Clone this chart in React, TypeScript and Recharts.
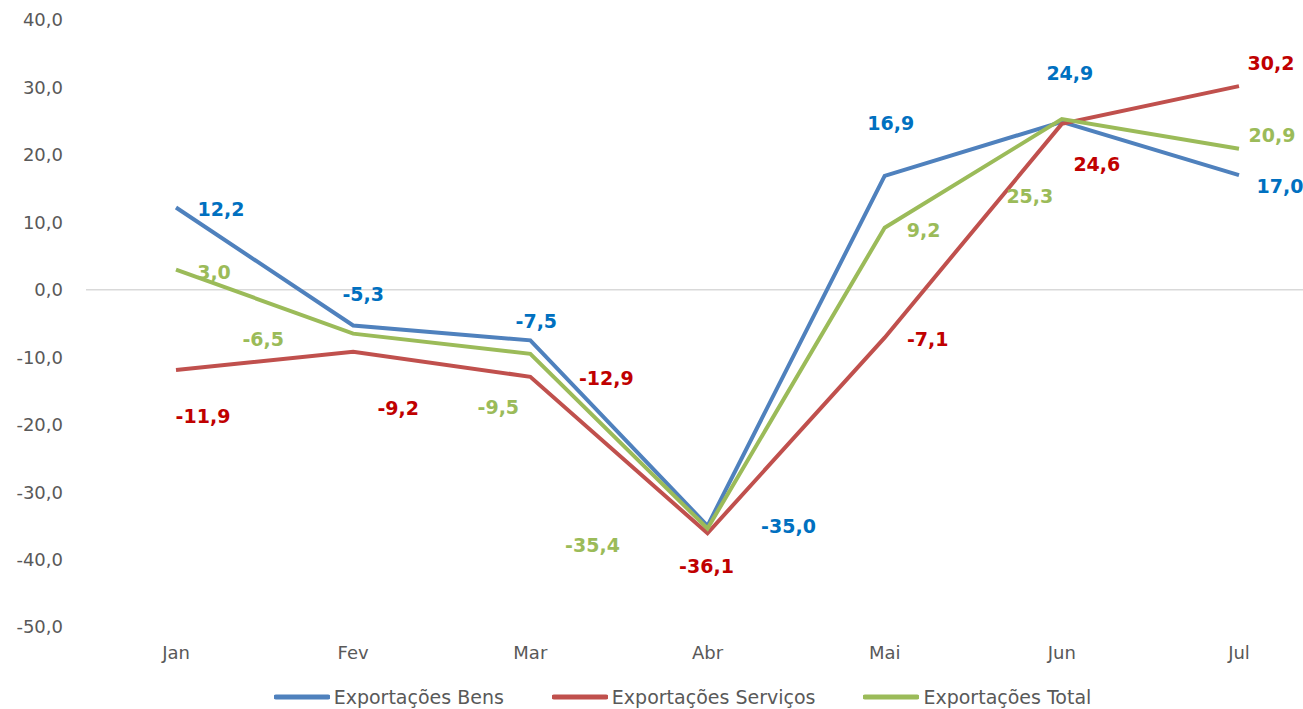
import { FC } from "react";
import {
  LabelList,
  Legend,
  Line,
  LineChart,
  ReferenceLine,
  XAxis,
  YAxis,
} from "recharts";

const MONTHS: string[] = ["Jan", "Fev", "Mar", "Abr", "Mai", "Jun", "Jul"];
const BENS: number[] = [12.2, -5.3, -7.5, -35.0, 16.9, 24.9, 17.0];
const SERVICOS: number[] = [-11.9, -9.2, -12.9, -36.1, -7.1, 24.6, 30.2];
const TOTAL: number[] = [3.0, -6.5, -9.5, -35.4, 9.2, 25.3, 20.9];
const Y_TICKS: number[] = [-50, -40, -30, -20, -10, 0, 10, 20, 30, 40];

const SERIES = [
  { key: "bens", name: "Exportações Bens", line: "#4F81BD", label: "#0070C0" },
  { key: "servicos", name: "Exportações Serviços", line: "#C0504D", label: "#C00000" },
  { key: "total", name: "Exportações Total", line: "#9BBB59", label: "#9BBB59" },
];

// label nudges (dx, dy) per point, as placed in the original
const OFFSETS: Record<string, [number, number][]> = {
  bens: [[45, 2], [10, -32], [6, -19], [81, 0], [6, -53], [8, -49], [41, 11]],
  servicos: [[27, 46], [45, 56], [76, 1], [-1, 33], [43, 1], [35, 40], [32, -23]],
  total: [[38, 2], [-90, 5], [-32, 53], [-115, 16], [39, 2], [-32, 77], [33, -14]],
};

const fmt = (v: number) => v.toFixed(1).replace(".", ",");

const FONT = "'DejaVu Sans', sans-serif";

const data = MONTHS.map((m, i) => ({
  month: m,
  bens: BENS[i],
  servicos: SERVICOS[i],
  total: TOTAL[i],
}));

const makeLabel = (key: string, color: string) => (props: any) => {
  const { x, y, value, index } = props;
  const [dx, dy] = OFFSETS[key][index];
  return (
    <text
      x={x + dx}
      y={y + dy}
      textAnchor="middle"
      dominantBaseline="central"
      fill={color}
      fontFamily={FONT}
      fontWeight="bold"
      fontSize={19}
    >
      {fmt(value)}
    </text>
  );
};

const LegendBox: FC = () => (
  <div
    style={{
      display: "flex",
      justifyContent: "center",
      alignItems: "center",
      height: 24,
      fontFamily: FONT,
      fontSize: 19,
      color: "#595959",
      paddingLeft: 62,
    }}
  >
    {SERIES.map((s, i) => (
      <div
        key={s.key}
        style={{ display: "flex", alignItems: "center", marginRight: i < 2 ? 48 : 0 }}
      >
        <svg width={56} height={8} style={{ marginRight: 4 }}>
          <line x1={2} y1={4} x2={54} y2={4} stroke={s.line} strokeWidth={5} strokeLinecap="round" />
        </svg>
        <span>{s.name}</span>
      </div>
    ))}
  </div>
);

const App: FC = () => (
  <div style={{ position: "absolute", left: 0, top: 0 }}>
    <LineChart
      width={1303}
      height={709}
      data={data}
      margin={{ top: 20, right: 0, bottom: 0, left: 0 }}
    >
      <XAxis
        dataKey="month"
        axisLine={false}
        tickLine={false}
        height={58}
        tickMargin={13}
        padding={{ left: 90, right: 64 }}
        tick={{ fill: "#595959", fontSize: 18, fontFamily: FONT }}
      />
      <YAxis
        domain={[-50, 40]}
        ticks={Y_TICKS}
        axisLine={false}
        tickLine={false}
        width={86}
        tickMargin={17}
        tickFormatter={fmt}
        tick={{ fill: "#595959", fontSize: 18, fontFamily: FONT }}
      />
      <ReferenceLine y={0} stroke="#d9d9d9" strokeWidth={1.5} />
      <Legend verticalAlign="bottom" height={24} content={() => <LegendBox />} />
      {SERIES.map((s) => (
        <Line
          key={s.key}
          type="linear"
          dataKey={s.key}
          name={s.name}
          stroke={s.line}
          strokeWidth={4}
          dot={false}
          activeDot={false}
          isAnimationActive={false}
        >
          <LabelList dataKey={s.key} content={makeLabel(s.key, s.label)} />
        </Line>
      ))}
    </LineChart>
  </div>
);

export default App;
